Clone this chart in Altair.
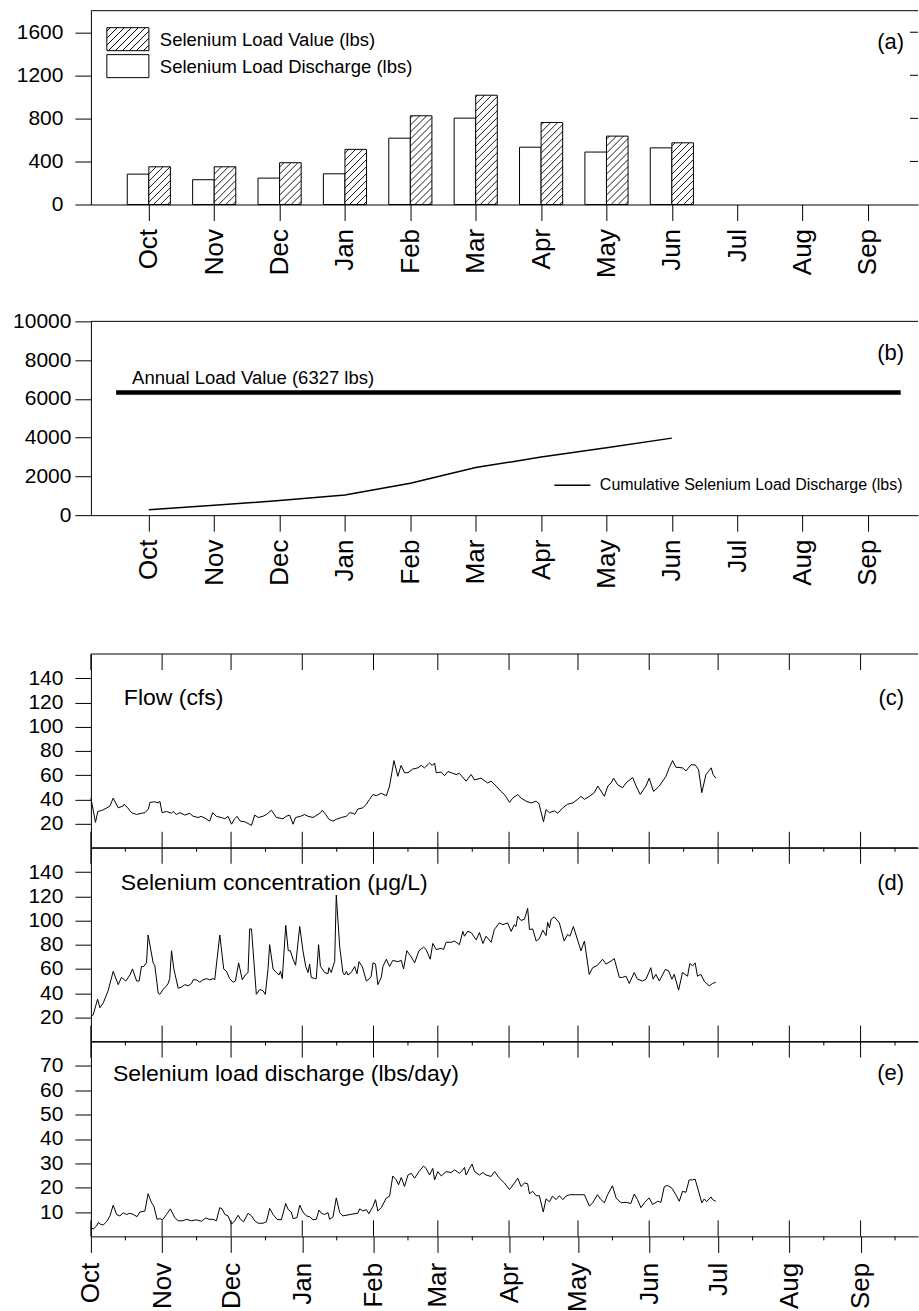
import json

import altair as alt
import pandas as pd

# ---------------------------------------------------------------- data
MONTHS = ["Oct", "Nov", "Dec", "Jan", "Feb", "Mar", "Apr", "May", "Jun", "Jul", "Aug", "Sep"]
# first day of each month, counted from Oct 1 (day 0) of the water year
MONTH_START_DAY = [0, 31, 61, 92, 123, 151, 182, 212, 243, 273, 304, 335]

# (a) monthly selenium loads, Oct-Jun
LOAD_VALUE_LBS = [350, 350, 388, 512, 824, 1015, 762, 635, 573]
LOAD_DISCHARGE_LBS = [282, 230, 245, 285, 616, 802, 532, 487, 526]

# (b) running total of the monthly discharge and the annual load value
CUMULATIVE_DISCHARGE_LBS = [280, 510, 755, 1045, 1650, 2455, 2995, 3480, 3975]
ANNUAL_LOAD_VALUE_LBS = 6327

# (c) daily flow, (day of water year, cfs)
FLOW_CFS = [
    (0, 41), (2, 21), (3, 30), (5, 31), (7, 33), (8.3, 34.5), (9.7, 41), (11.9, 33),
    (14, 34.5), (14.5, 36), (16, 33), (17.7, 29), (19.9, 27.5), (22, 28.5), (23.5, 29),
    (25, 32), (25.7, 37.5), (27.8, 38), (29.3, 37), (30, 38.5), (31, 29), (32.9, 30),
    (35, 28.5), (35.8, 30), (37.2, 27.5), (38.7, 29), (40.9, 27), (43, 28.5), (44.5, 26),
    (46.7, 25), (48, 26), (49.6, 24.5), (51.7, 22), (53, 29), (54.6, 26), (56.8, 25),
    (58.3, 24), (59.7, 26), (61.2, 19.5), (62.6, 24), (63.6, 26), (65, 22), (67, 21.5),
    (69.9, 18.5), (71.3, 27), (72.8, 25), (74.9, 26), (76.4, 27.5), (78.6, 31), (80.7, 25),
    (83.6, 24), (85, 26), (86.5, 27), (88, 19.5), (89.1, 25), (91.3, 26), (93, 27.5),
    (94.5, 26), (96.7, 25), (100, 29), (100.7, 31), (102.2, 27.5), (103.6, 23.5),
    (105.4, 22), (106.8, 23.5), (109, 25), (111.2, 26), (112.6, 29), (114.1, 28.5),
    (114.8, 27.5), (116.2, 32), (118.4, 33), (119.9, 36), (121.3, 40), (122.8, 44),
    (124.2, 43), (126.4, 45), (128.6, 43), (130, 51), (131.9, 72), (133.6, 59), (135, 68),
    (136.5, 62), (138, 62), (140.1, 65), (142.3, 66), (143.8, 68), (145.2, 66), (147.4, 70),
    (148.6, 68), (149.6, 70), (150.3, 62), (152.5, 62.5), (153.9, 59.5), (155.4, 63),
    (156.8, 62), (159, 60.5), (160.4, 61.5), (163.3, 55), (165.5, 60.5), (167, 56),
    (169.8, 57.5), (172.7, 53.5), (174.2, 55), (176.4, 51), (178.5, 46.5), (180, 44),
    (182.2, 37.5), (183.6, 41), (185.8, 44), (187.3, 41), (189.4, 38.5), (191.6, 37),
    (193.8, 38.5), (195, 36.5), (197, 21.5), (198.1, 31.5), (199.6, 29), (201.7, 30.5),
    (203.2, 28.5), (205.4, 33), (207.5, 36), (209.7, 37), (211.9, 40), (213.3, 42.5),
    (214.8, 40), (217, 42.5), (219.1, 45.5), (220.6, 51), (223.5, 42.5), (225, 51),
    (226.4, 53.5), (227.5, 57.5), (229.3, 52), (231.4, 49.5), (232.9, 53.5), (235.8, 58),
    (237.3, 51), (239.1, 44), (241.6, 51), (243, 57.5), (244.9, 46.5), (247.4, 51),
    (250.3, 59), (251.7, 66), (253.2, 72), (254.6, 66.5), (257.5, 66), (259, 63.5),
    (261.2, 68.5), (263, 68.5), (264.5, 64.5), (265.9, 45.5), (267.7, 60.5), (268.8, 63),
    (270, 66), (270.8, 60.5), (272, 57.5),
]

# (d) daily selenium concentration, (day of water year, ug/L)
SE_CONC_UGL = [
    (0, 21), (1, 22), (2.9, 35), (3.9, 28), (5.4, 32), (7.5, 42), (9.7, 58), (11.9, 47),
    (13.3, 53), (15.2, 50), (17, 55), (18.1, 60), (19.9, 50), (21, 50), (22, 62), (23, 62),
    (24.2, 65), (24.9, 88), (27.1, 65), (27.8, 63), (29.3, 40), (30, 39), (31.4, 43),
    (32.9, 46), (33.6, 48), (34.3, 52), (35.1, 75), (36.1, 60), (38, 44), (39.4, 45),
    (40.9, 47), (42.3, 46), (43.8, 48), (44.5, 51), (45.9, 51), (47.4, 49), (48.8, 51),
    (50.3, 52), (51.7, 51), (53.2, 52), (53.9, 51), (56.1, 88), (57.8, 60), (59, 58),
    (60.4, 52), (61.9, 49), (62.9, 50), (64.3, 65), (65.9, 51), (67.2, 55), (68.4, 57),
    (69.1, 93), (69.9, 93), (72, 39), (73.5, 43), (74.9, 42), (75.9, 39), (77.1, 60),
    (77.8, 80), (79.3, 60), (80.7, 57), (81.9, 55), (82.5, 58), (83.3, 52), (84.8, 96),
    (85.9, 75), (86.8, 75), (88, 68), (89.1, 63), (90.9, 95), (92.3, 75), (93.5, 62),
    (94.5, 57), (95.2, 64), (95.9, 53), (97.4, 52), (98.1, 52), (99.1, 80), (99.9, 62),
    (100.7, 60), (101.7, 57), (103.2, 56), (103.6, 61), (104.6, 57), (105.7, 64),
    (106.1, 66), (106.8, 121), (108.3, 78), (109.7, 57), (110.4, 55), (111.2, 58),
    (111.9, 55), (113.3, 57), (114.8, 62), (115.8, 56), (116.7, 66), (118.1, 62),
    (119.9, 50), (121.3, 52), (122, 54), (122.8, 65), (123.9, 64), (124.9, 47), (126.4, 53),
    (127.1, 62), (128.6, 68), (130, 62), (131.4, 67), (133.6, 66), (135.1, 67), (136.1, 60),
    (137.5, 75), (139.4, 70), (140.9, 65), (142.8, 75), (144.8, 78), (145.9, 76),
    (147.7, 68), (148.8, 81), (150.3, 76), (152.5, 77), (153.5, 76), (154.6, 82),
    (156.8, 82), (158.3, 83), (160.4, 80), (161.9, 91), (162.6, 87), (164, 91), (165.5, 90),
    (167.7, 84), (169.1, 90), (170.6, 81), (172, 87), (174.2, 82), (175.6, 92.5),
    (177.8, 98), (179.3, 96.5), (181.4, 98), (182.9, 91), (184.3, 96.5), (185, 95),
    (185.8, 103.5), (187.2, 100), (188.7, 101), (190.1, 110), (190.9, 92.5), (192.3, 93),
    (193.8, 83), (195.2, 85), (196.7, 92), (198.1, 87.5), (198.8, 98.5), (199.6, 94),
    (200.3, 101), (201.7, 103), (203.9, 98), (206, 83), (207.5, 88.5), (208.5, 87),
    (210, 95), (211.9, 83.5), (213.3, 75), (214.8, 83), (216.9, 55.5), (218.4, 61),
    (220.5, 63), (222.7, 68), (224.2, 64), (226.4, 66.5), (227.8, 68.5), (230, 53),
    (231.4, 53), (232.9, 54), (234.3, 48), (236.5, 57), (237.9, 51.5), (240.1, 50),
    (241.6, 51.5), (243.7, 61), (244.7, 51.5), (245.9, 55.5), (247.4, 50), (250, 59.5),
    (251.4, 58.5), (252.9, 51.5), (253.9, 55.5), (255.8, 42.5), (257.5, 57), (259.7, 54),
    (260.7, 64.5), (261.9, 62.5), (263, 65), (264, 54), (265.5, 55.5), (266.9, 50),
    (269.1, 46), (270.6, 48), (272, 49),
]

# (e) daily selenium load discharge, (day of water year, lbs/day)
SE_LOAD_LBS_DAY = [
    (0, 3.7), (1, 3), (2.5, 4.3), (3.2, 5.7), (4.2, 5), (5.4, 4.7), (6.8, 6), (8.3, 8.4),
    (9.7, 12.8), (11.2, 9), (12.6, 8.4), (14.1, 9.7), (15.5, 9), (17, 9.5), (18.4, 9),
    (20.1, 8.1), (21.3, 10), (23.5, 10.4), (24.9, 17.5), (26.4, 13.8), (27.4, 12.4),
    (28.8, 7), (30, 7.3), (31.2, 6.8), (32.9, 9), (34.6, 11.3), (36.5, 7.7), (38, 6.4),
    (39.9, 6.4), (41.6, 7), (43.8, 6.4), (45.9, 6.8), (48.1, 6.2), (50, 7.6), (51.4, 7),
    (53.2, 7), (54.6, 6.4), (56.1, 11.8), (57.1, 11.3), (58.3, 9), (59.7, 8.4), (61.2, 5),
    (62.6, 6.4), (64.1, 8.7), (65.1, 7), (66.5, 6), (68.4, 9.5), (69.9, 8.4), (71.3, 6.4),
    (72.8, 5.4), (74.9, 5.4), (76.4, 6), (77.8, 11.5), (79.3, 9), (81, 7), (82.9, 6.8),
    (84.8, 13.5), (85.9, 11), (87.2, 10), (88, 7.3), (89.7, 7.7), (90.9, 12.8), (92.3, 10),
    (93.8, 8.4), (95.2, 8.1), (96.7, 6.8), (98.1, 7), (99.3, 10.8), (100.3, 9.5),
    (101.7, 9), (103.2, 9.7), (103.9, 7), (105.4, 8), (106.8, 15.8), (108.3, 9.7),
    (109.7, 8.4), (111.9, 8.8), (114.1, 9.2), (116.2, 9.5), (117, 11.3), (118.4, 10.4),
    (119.9, 11), (121, 9.3), (122.8, 12.4), (123.9, 15.1), (124.9, 10.4), (126.4, 11.8),
    (128.6, 15.8), (130, 16.5), (131.4, 24.8), (132.9, 23.2), (133.9, 21.2), (135.1, 24.2),
    (136.5, 20.5), (138, 25.2), (139.4, 25.9), (140.9, 23.9), (142.8, 26.6), (144.8, 28.9),
    (145.9, 27.9), (147.4, 25.2), (148.8, 27.9), (149.6, 23.2), (151, 26.6), (152.5, 24.8),
    (154.6, 26.6), (156.8, 26.2), (158.3, 27.3), (160.4, 25.9), (161.2, 26.6),
    (162.6, 28.3), (163.3, 25.2), (164.8, 27.9), (165.9, 29.7), (167, 26.6), (169.1, 25.2),
    (170.6, 26.2), (172, 25.2), (174.2, 24.6), (175.7, 26.6), (177.8, 23.9), (180, 21.9),
    (182.2, 19.2), (184.3, 21.9), (185.8, 23.9), (187.2, 20.5), (188.7, 21.9),
    (190.1, 21.6), (190.9, 17.5), (192.3, 18.5), (193.8, 16.7), (195.2, 16.7), (196.9, 10),
    (198.1, 15.4), (199.6, 14.2), (200.9, 16.5), (202.5, 15.1), (203.9, 16.7),
    (205.4, 15.1), (206.8, 16.5), (208.3, 17.1), (210.4, 17.1), (212.6, 17.1),
    (214.8, 17.1), (217, 12.4), (218.4, 13.8), (220.5, 17.1), (222, 15.1), (223.5, 13.8),
    (224.9, 17.1), (227, 20.8), (228.6, 15.8), (230.7, 13.8), (232.9, 14), (235, 13.5),
    (236.5, 17.4), (237.9, 15.1), (239.4, 11.8), (240.9, 13.8), (243, 15.8), (244.5, 13.1),
    (246.7, 14.4), (248.1, 14), (249.6, 20.5), (251, 20.9), (252.9, 19.8), (254.6, 17.1),
    (256.1, 14.4), (257.5, 18.5), (259, 18.1), (260.4, 23.2), (261.9, 23.2), (263, 23.5),
    (264.7, 17.8), (265.9, 13.8), (267, 15.4), (268, 14.2), (269.9, 16.2), (270.6, 15.1),
    (272, 14.4),
]

VALUE_SERIES = "Selenium Load Value (lbs)"
DISCHARGE_SERIES = "Selenium Load Discharge (lbs)"
CUMULATIVE_SERIES = "Cumulative Selenium Load Discharge (lbs)"

# ---------------------------------------------------------------- layout
FONT = "Liberation Sans"
W = 828                       # plot width shared by every panel
X_MONTH = [-0.886, 11.765]    # month-index scale used by (a) and (b)
X_DAY = [0, 360]              # day-of-water-year scale used by (c)-(e)
BAR_W = 0.33                  # bar width in month units
H_A = 194
Y_A_MAX = 1800
PX_X = W / (X_MONTH[1] - X_MONTH[0])
PX_Y = H_A / Y_A_MAX
BAR_PX = BAR_W * PX_X
HATCH_STEP = 7.0              # px between hatch lines

x_month = alt.Scale(domain=X_MONTH, nice=False, zero=False)
x_day = alt.Scale(domain=X_DAY, nice=False, zero=False)
month_label_expr = json.dumps(MONTHS) + "[datum.value]"
day_label_expr = json.dumps(MONTHS) + "[indexof(" + json.dumps(MONTH_START_DAY) + ", datum.value)]"
MID_MONTH_DAY = [d + 15 for d in MONTH_START_DAY]   # minor tick positions


def month_axis():
    return alt.Axis(values=list(range(len(MONTHS))), labelExpr=month_label_expr,
                    labelAngle=-90, labelFontSize=26, tickSize=16, labelPadding=8,
                    labelFlush=False, labelOverlap=False, title=None, grid=False)


def y_axis(values, pad):
    return alt.Axis(values=values, format="d", tickSize=16, labelPadding=pad, labelFontSize=21,
                    labelFlush=False, labelOverlap=False, title=None, grid=False)


def note(text, x, y, align, size):
    return alt.Chart(pd.DataFrame({"t": [text]})).mark_text(
        align=align, baseline="middle", fontSize=size, color="black", font=FONT
    ).encode(text="t:N", x=alt.value(x), y=alt.value(y))


def top_edge():
    return alt.Chart(pd.DataFrame({"edge": ["top"]})).mark_rule(color="black", strokeWidth=1).encode(
        x=alt.value(0), x2=alt.value(W), y=alt.value(0))


def swatch_paths(half_w=1.83, step=0.61):
    """Legend symbols: an outlined box, and the same box with '/' hatching."""
    box = f"M{-half_w},-1L{half_w},-1L{half_w},1L{-half_w},1Z"
    lines = []
    c = -half_w - 1 + step / 2
    while c < half_w + 1:
        x1, x2 = max(-half_w, c - 1), min(half_w, c + 1)
        if x2 - x1 > 0.05:
            lines.append(f"M{x1:.3f},{c - x1:.3f}L{x2:.3f},{c - x2:.3f}")
        c += step
    return box + "".join(lines), box


HATCH_PATH, BOX_PATH = swatch_paths()


def swatch(path, y):
    return alt.Chart(pd.DataFrame({"s": [path]})).mark_point(
        shape=path, size=529, filled=True, fill="white", stroke="black", strokeWidth=1, opacity=1
    ).encode(x=alt.value(37), y=alt.value(y))


# ---------------------------------------------------------------- panel (a)
bars = pd.DataFrame({
    "p": list(range(len(LOAD_VALUE_LBS))),
    "value": LOAD_VALUE_LBS,
    "discharge": LOAD_DISCHARGE_LBS,
})
y_a = alt.Scale(domain=[0, Y_A_MAX], nice=False, zero=False)
xa_axis = month_axis()
ya_axis = y_axis([0, 400, 800, 1200, 1600], 12)

discharge_bars = alt.Chart(bars).transform_calculate(left=f"datum.p - {BAR_W}").mark_rect(
    fill="white", stroke="black", strokeWidth=1
).encode(
    x=alt.X("left:Q", scale=x_month, axis=xa_axis),
    x2="p:Q",
    y=alt.Y("discharge:Q", scale=y_a, axis=ya_axis),
    y2=alt.datum(0),
)

value_bars = alt.Chart(bars).transform_calculate(right=f"datum.p + {BAR_W}").mark_rect(
    fill="white", stroke="black", strokeWidth=1
).encode(
    x=alt.X("p:Q", scale=x_month, axis=xa_axis),
    x2="right:Q",
    y=alt.Y("value:Q", scale=y_a, axis=ya_axis),
    y2=alt.datum(0),
)

# diagonal hatching of the load-value bars, clipped to each bar
hatch_lines = alt.Chart(bars).transform_calculate(
    h=f"datum.value * {PX_Y}",
    k="sequence(0, 40)",
).transform_flatten(["k"]).transform_calculate(
    d=f"{HATCH_STEP} * datum.k + 3 - {BAR_PX}",
).transform_calculate(
    u1="max(0, -datum.d)",
    u2=f"min({BAR_PX}, datum.h - datum.d)",
).transform_filter("datum.u2 - datum.u1 > 0.3").transform_calculate(
    hx1=f"datum.p + datum.u1 / {PX_X}",
    hx2=f"datum.p + datum.u2 / {PX_X}",
    hy1=f"(datum.u1 + datum.d) / {PX_Y}",
    hy2=f"(datum.u2 + datum.d) / {PX_Y}",
).mark_rule(color="black", strokeWidth=0.9).encode(
    x=alt.X("hx1:Q", scale=x_month, axis=xa_axis),
    x2="hx2:Q",
    y=alt.Y("hy1:Q", scale=y_a, axis=ya_axis),
    y2="hy2:Q",
)

right_ticks = alt.Chart(pd.DataFrame({"tick": [400, 800, 1200, 1600]})).mark_rule(color="black").encode(
    y=alt.Y("tick:Q", scale=y_a, axis=ya_axis), x=alt.value(W - 8), x2=alt.value(W))

panel_a = alt.layer(
    discharge_bars, value_bars, hatch_lines, top_edge(), right_ticks,
    swatch(HATCH_PATH, 28.5), swatch(BOX_PATH, 55.5),
    note(VALUE_SERIES, 69, 29.5, "left", 18.5),
    note(DISCHARGE_SERIES, 69, 56.5, "left", 18.5),
    note("(a)", 814, 31, "right", 22),
).properties(width=W, height=H_A)

# ---------------------------------------------------------------- panel (b)
cum = pd.DataFrame({
    "p": list(range(len(CUMULATIVE_DISCHARGE_LBS))),
    "cum": CUMULATIVE_DISCHARGE_LBS,
    "series": CUMULATIVE_SERIES,
})
y_b = alt.Scale(domain=[0, 10000], nice=False, zero=False)
xb_axis = month_axis()
yb_axis = y_axis(list(range(0, 10001, 2000)), 4)

cum_line = alt.Chart(cum).mark_line(strokeWidth=1.5).encode(
    x=alt.X("p:Q", scale=x_month, axis=xb_axis),
    y=alt.Y("cum:Q", scale=y_b, axis=yb_axis),
    color=alt.Color("series:N", scale=alt.Scale(range=["black"]),
                    legend=alt.Legend(orient="none", legendX=463, legendY=145, title=None,
                                      symbolType="stroke", symbolSize=1296, symbolStrokeWidth=1.5,
                                      symbolStrokeColor="black", labelFontSize=16, labelOffset=8.5,
                                      labelColor="black", labelLimit=0, labelFont=FONT)),
)

annual = pd.DataFrame({"start": [-0.5], "end": [len(MONTHS) - 0.5], "value": [ANNUAL_LOAD_VALUE_LBS]})
annual_rule = alt.Chart(annual).mark_rule(color="black", strokeWidth=4.5).encode(
    x=alt.X("start:Q", scale=x_month, axis=xb_axis), x2="end:Q",
    y=alt.Y("value:Q", scale=y_b, axis=yb_axis))
annual_text = alt.Chart(annual).transform_calculate(
    label='"Annual Load Value (" + datum.value + " lbs)"'
).mark_text(align="left", baseline="alphabetic", dx=16, dy=-9, fontSize=18.5, font=FONT, color="black").encode(
    x=alt.X("start:Q", scale=x_month, axis=xb_axis),
    y=alt.Y("value:Q", scale=y_b, axis=yb_axis),
    text="label:N")

panel_b = alt.layer(
    cum_line, annual_rule, annual_text, top_edge(), note("(b)", 814, 32, "right", 22),
).properties(width=W, height=194)


# ---------------------------------------------------------------- panels (c)-(e)
def daily_panel(pairs, y_max, y_ticks, height, label, label_x, label_y, letter, letter_y, month_labels):
    df = pd.DataFrame(pairs, columns=["day", "v"])
    y_sc = alt.Scale(domain=[0, y_max], nice=False, zero=False)
    if month_labels:
        x_axis = alt.Axis(values=MONTH_START_DAY, labelExpr=day_label_expr, labelAngle=-90,
                          labelFontSize=26, tickSize=16, labelPadding=10, labelFlush=False,
                          labelOverlap=False, title=None, grid=False)
    else:
        x_axis = alt.Axis(values=MONTH_START_DAY, labels=False, ticks=False, title=None, grid=False)
    line = alt.Chart(df).mark_line(color="black", strokeWidth=1).encode(
        x=alt.X("day:Q", scale=x_day, axis=x_axis),
        y=alt.Y("v:Q", scale=y_sc, axis=y_axis(y_ticks, 12)),
    )
    starts = pd.DataFrame({"day": MONTH_START_DAY})
    mids = pd.DataFrame({"day": MID_MONTH_DAY})
    ticks_top = alt.Chart(starts).mark_rule(color="black").encode(
        x=alt.X("day:Q", scale=x_day, axis=x_axis), y=alt.value(0), y2=alt.value(16))
    ticks_bottom = alt.Chart(starts).mark_rule(color="black").encode(
        x=alt.X("day:Q", scale=x_day, axis=x_axis), y=alt.value(height - 16), y2=alt.value(height))
    ticks_minor = alt.Chart(mids).mark_rule(color="black").encode(
        x=alt.X("day:Q", scale=x_day, axis=x_axis), y=alt.value(height), y2=alt.value(height + 4))
    return alt.layer(
        line, ticks_top, ticks_bottom, ticks_minor, top_edge(),
        note(label, label_x, label_y, "left", 23),
        note(letter, 814, letter_y, "right", 22),
    ).properties(width=W, height=height)


panel_c = daily_panel(FLOW_CFS, 160, [20, 40, 60, 80, 100, 120, 140], 194,
                      "Flow (cfs)", 33, 44, "(c)", 44, False)
panel_d = daily_panel(SE_CONC_UGL, 160, [20, 40, 60, 80, 100, 120, 140], 194,
                      "Selenium concentration (\u03bcg/L)", 30, 35, "(d)", 35, False)
panel_e = daily_panel(SE_LOAD_LBS_DAY, 80, [10, 20, 30, 40, 50, 60, 70], 195,
                      "Selenium load discharge (lbs/day)", 22, 32, "(e)", 31, True)


def spacer(h):
    return alt.Chart(pd.DataFrame({"gap": [0]})).mark_point(opacity=0).encode(
        x=alt.value(0), y=alt.value(0)).properties(width=W, height=h)


chart = alt.vconcat(
    panel_a, spacer(117), panel_b, spacer(139), panel_c, panel_d, panel_e,
    spacing=0, bounds="flush",
).resolve_scale(
    color="independent"
).properties(
    padding={"left": 12, "top": 9, "right": 0, "bottom": 0}
).configure(
    font=FONT
).configure_view(
    stroke=None
).configure_axis(
    domainColor="black", tickColor="black", labelColor="black",
    domainWidth=1, tickWidth=1, labelFont=FONT,
)

chart.save("out.html", embed_options={"renderer": "svg", "actions": False})
